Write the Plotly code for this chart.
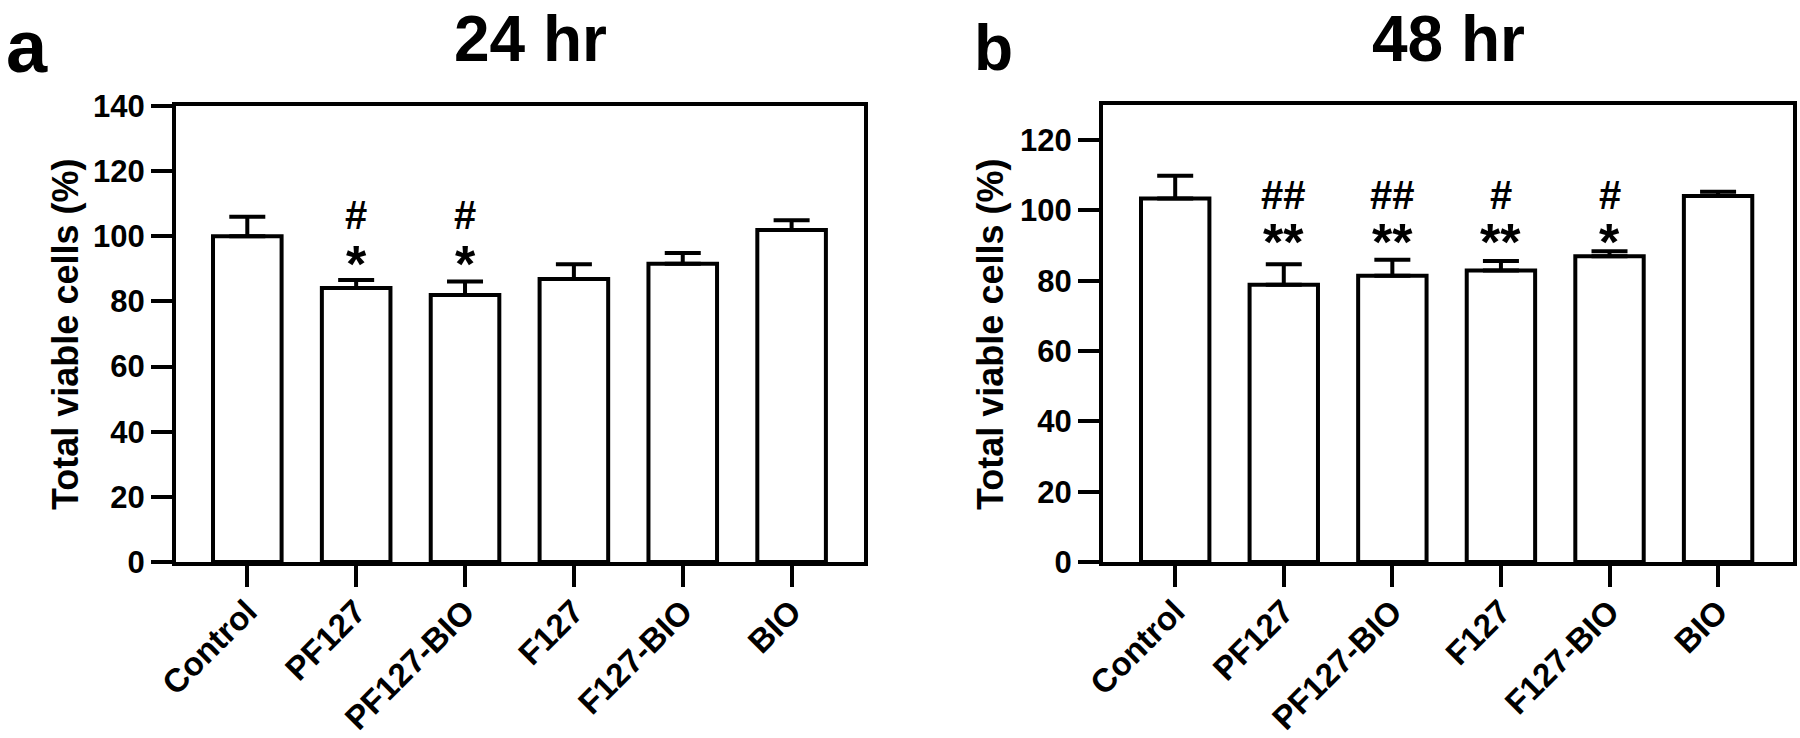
import plotly.graph_objs as go

# data
groups = ['Control', 'PF127', 'PF127-BIO', 'F127', 'F127-BIO', 'BIO']
mean_24 = [100.0, 84.1, 82.0, 86.9, 91.6, 101.9]
sd_24 = [6.0, 2.5, 4.1, 4.5, 3.3, 3.0]
mean_48 = [103.4, 78.9, 81.4, 82.9, 87.0, 104.1]
sd_48 = [6.5, 5.8, 4.6, 2.7, 1.4, 1.2]
hash_24 = ['', '#', '#', '', '', '']
star_24 = ['', '*', '*', '', '', '']
hash_48 = ['', '##', '##', '#', '#', '']
star_48 = ['', '**', '**', '**', '*', '']
yticks_24 = [0, 20, 40, 60, 80, 100, 120, 140]
yticks_48 = [0, 20, 40, 60, 80, 100, 120]

FONT = 'Arial, Liberation Sans, sans-serif'
W, H = 1800, 738

fig = go.Figure()

def bar(x, y, err, xa, ya):
    return go.Bar(x=x, y=y, xaxis=xa, yaxis=ya, width=0.63,
                  marker=dict(color='white', line=dict(color='black', width=4)),
                  error_y=dict(type='data', array=err, arrayminus=[0] * len(err),
                               symmetric=False, color='black', thickness=4, width=18),
                  showlegend=False)

fig.add_trace(bar(groups, mean_24, sd_24, 'x', 'y'))
fig.add_trace(bar(groups, mean_48, sd_48, 'x2', 'y2'))

axis_common = dict(showline=True, linecolor='black', linewidth=4, mirror=True,
                   ticks='outside', tickwidth=4, ticklen=21, tickcolor='black',
                   showgrid=False, zeroline=False, automargin=False,
                   tickfont=dict(family=FONT, size=31, color='black', weight='bold'))

xa = dict(axis_common, tickangle=-45, ticklabelstandoff=-8,
          tickfont=dict(family=FONT, size=33, color='black', weight='bold'))

fig.update_layout(
    width=W, height=H,
    margin=dict(l=0, r=0, t=0, b=0, autoexpand=False),
    plot_bgcolor='white', paper_bgcolor='white',
    xaxis=dict(xa, domain=[176 / W, 864 / W], range=[-0.655, 5.665], anchor='y'),
    yaxis=dict(axis_common, domain=[(H - 562) / H, (H - 106) / H], range=[0, 140],
               tickvals=yticks_24, anchor='x'),
    xaxis2=dict(xa, domain=[1103 / W, 1793 / W], range=[-0.665, 5.69], anchor='y2'),
    yaxis2=dict(axis_common, domain=[(H - 562) / H, (H - 105) / H], range=[0, 130],
                tickvals=yticks_48, anchor='x2'),
)

ann = []
# panel titles, letters and y-axis titles
def paper_text(text, x, y, size, angle=0):
    return dict(text='<b>' + text + '</b>', x=x / W, y=1 - y / H, xref='paper', yref='paper',
                showarrow=False, textangle=angle, xanchor='center', yanchor='middle',
                font=dict(family=FONT, size=size, color='black'))

ann.append(paper_text('24 hr', 530, 39, 64))
ann.append(paper_text('48 hr', 1448, 39, 64))
ann.append(paper_text('a', 27, 46, 74))
ann.append(paper_text('b', 993, 48, 64))
ann.append(paper_text('Total viable cells (%)', 65, 335, 36, -90))
ann.append(paper_text('Total viable cells (%)', 990, 335, 36, -90))

# significance marks
for g, h, s in zip(groups, hash_24, star_24):
    if h:
        ann.append(dict(text='<b>' + h + '</b>', x=g, y=106.4, xref='x', yref='y', showarrow=False,
                        font=dict(family=FONT, size=40, color='black')))
    if s:
        ann.append(dict(text='<b>' + s + '</b>', x=g, y=91.5, xref='x', yref='y', showarrow=False,
                        font=dict(family=FONT, size=52, color='black')))
for g, h, s in zip(groups, hash_48, star_48):
    if h:
        ann.append(dict(text='<b>' + h + '</b>', x=g, y=104.3, xref='x2', yref='y2', showarrow=False,
                        font=dict(family=FONT, size=40, color='black')))
    if s:
        ann.append(dict(text='<b>' + s + '</b>', x=g, y=91.0, xref='x2', yref='y2', showarrow=False,
                        font=dict(family=FONT, size=52, color='black')))

fig.update_layout(annotations=ann)

# drop the page's default body margin so the figure sits at the window's corner
fig.write_html("out.html", config={'displayModeBar': False},
               post_script="document.body.style.margin='0';document.body.style.overflow='hidden';")
